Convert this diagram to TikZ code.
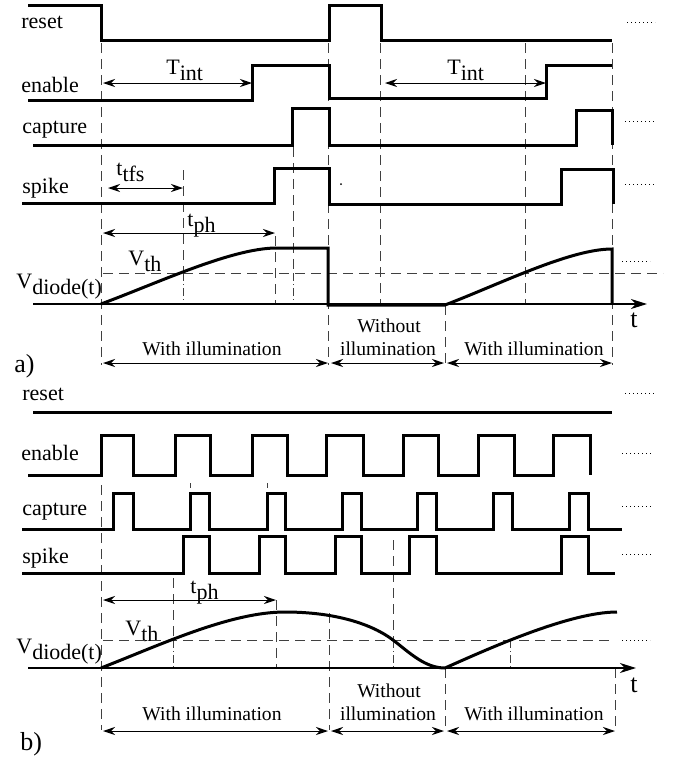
\documentclass[tikz,border=0pt]{standalone}
\usepackage{fontspec}
\setmainfont{Liberation Serif}
\usetikzlibrary{arrows.meta}

\newcommand{\lowtxt}[1]{\raisebox{-3pt}{#1}}

\tikzset{
  sig/.style={line width=1.5pt},
  guide/.style={line width=0.5pt, black!75, dash pattern=on 5pt off 3pt},
  guidedot/.style={line width=0.5pt, black!75, dash pattern=on 4pt off 1.5pt on 0.6pt off 1.5pt},
  etc/.style={line width=0.5pt, dash pattern=on 0.7pt off 1.3pt},
  axisline/.style={line width=0.6pt, -{Stealth[length=8pt,width=5pt,inset=2.5pt]}},
  span/.style={line width=0.5pt, {Stealth[length=6pt,width=4pt,inset=2pt]}-{Stealth[length=6pt,width=4pt,inset=2pt]}},
  siglabel/.style={anchor=base west, inner sep=0pt, font=\fontsize{11}{13}\selectfont},
  illum/.style={anchor=base, inner sep=0pt, font=\fontsize{9.8}{11}\selectfont},
  partlabel/.style={anchor=base west, inner sep=0pt, font=\fontsize{13}{15}\selectfont}
}

\begin{document}
\begin{tikzpicture}[x=0.5pt, y=-0.5pt]
    \useasboundingbox (0,0) rectangle (683,762);

    % ---------- a) ----------
    \node[siglabel] (resetA) at (21,28) {reset};
    \node[siglabel] (enableA) at (21,92) {enable};
    \node[siglabel] (captureA) at (22,133) {capture};
    \node[siglabel] (spikeA) at (22,193) {spike};
    \node[siglabel] (vdiodeA) at (16,288) {V\lowtxt{diode(t)}};
    \node[siglabel] (vthA) at (128,265) {V\lowtxt{th}};
    \node[partlabel] (partA) at (14,372) {a)};

    % guide lines
    \draw[guide] (101,43) -- (101,365);
    \draw[guide] (183,170) -- (183,273);
    \draw[guidedot] (183,273) -- (183,304);
    \draw[guide] (275,236) -- (275,304);
    \draw[guide] (293,147) -- (293,273);
    \draw[guidedot] (293,273) -- (293,304);
    \draw[guide] (328,43) -- (328,365);
    \draw[guide] (380,43) -- (380,304);
    \draw[guide] (525,43) -- (525,304);
    \draw[guide] (612,43) -- (612,365);
    \draw[guide] (445,305) -- (445,365);
    \draw[guide] (103,273) -- (663,273);

    % signals
    \draw[sig] (28,5) -- (101,5) -- (101,40) -- (329,40) -- (329,5) -- (381,5) -- (381,40) -- (612,40);
    \draw[sig] (28,100) -- (252,100) -- (252,65) -- (329,65) -- (329,98) -- (546,98) -- (546,65) -- (612,65);
    \draw[sig] (33,145) -- (292,145) -- (292,108) -- (329,108) -- (329,145) -- (576,145) -- (576,110) -- (612,110) -- (612,145);
    \draw[sig] (22,203) -- (274,203) -- (274,168) -- (329,168) -- (329,204) -- (561,204) -- (561,169) -- (613,169) -- (613,204);
    \fill (341,184) circle (0.5pt);

    % diode voltage
    \draw[axisline] (33,304) -- (647,304);
    \node[font=\fontsize{13}{15}\selectfont, inner sep=0pt] (tA) at (634,320) {t};
    \draw[sig] (101,304) .. controls (160,282) and (230,249) .. (275,248) -- (328,248) -- (328,305)
        -- (445,305) .. controls (500,284) and (570,249) .. (612,249) -- (612,304);

    % time spans
    \draw[span] (103,83) -- (252,83);
    \node[siglabel] (tintA) at (166,74) {T\lowtxt{int}};
    \draw[span] (385,83) -- (546,83);
    \node[siglabel] (tintB) at (447,74) {T\lowtxt{int}};
    \draw[span] (108,188) -- (183,188);
    \node[siglabel] (ttfs) at (116,175) {t\lowtxt{tfs}};
    \draw[span] (103,233) -- (275,233);
    \node[siglabel] (tphA) at (187,226) {t\lowtxt{ph}};

    \draw[span] (103,363) -- (328,363);
    \draw[span] (331,363) -- (444,363);
    \draw[span] (447,363) -- (612,363);
    \node[illum] (withA) at (212,355) {With illumination};
    \node[illum] (withoutA) at (389,332) {Without};
    \node[illum] (withoutA2) at (388,355) {illumination};
    \node[illum] (withA2) at (534,355) {With illumination};

    % dotted continuations
    \draw[etc] (627,22) -- (655,22);
    \draw[etc] (625,121) -- (654,121);
    \draw[etc] (625,184) -- (654,184);
    \draw[etc] (622,261) -- (650,261);

    % ---------- b) ----------
    \node[siglabel] (resetB) at (22,400) {reset};
    \node[siglabel] (enableB) at (21,460) {enable};
    \node[siglabel] (captureB) at (22,515) {capture};
    \node[siglabel] (spikeB) at (22,563) {spike};
    \node[siglabel] (vdiodeB) at (16,653) {V\lowtxt{diode(t)}};
    \node[siglabel] (vthB) at (125,635) {V\lowtxt{th}};
    \node[partlabel] (partB) at (20,750) {b)};

    % guide lines
    \draw[guide] (101,485) -- (101,730);
    \draw[guide] (173,578) -- (173,640);
    \draw[guidedot] (173,640) -- (173,668);
    \draw[guide] (276,600) -- (276,668);
    \draw[guide] (329,613) -- (329,730);
    \draw[guide] (393,540) -- (393,640);
    \draw[guidedot] (393,640) -- (393,668);
    \draw[guide] (445,668) -- (445,730);
    \draw[guidedot] (510,640) -- (510,668);
    \draw[guide] (615,668) -- (615,730);
    \draw[guide] (190,483) -- (190,488);
    \draw[guide] (267,483) -- (267,488);
    \draw[guide] (103,640) -- (610,640);

    % signals
    \draw[sig] (33,412) -- (612,412);
    \draw[sig] (28,475) -- (101,475) -- (101,435) -- (133,435) -- (133,475) -- (175,475) -- (175,435)
        -- (210,435) -- (210,475) -- (252,475) -- (252,435) -- (287,435) -- (287,475) -- (326,475)
        -- (326,435) -- (363,435) -- (363,475) -- (403,475) -- (403,435) -- (438,435) -- (438,475)
        -- (478,475) -- (478,435) -- (514,435) -- (514,475) -- (553,475) -- (553,435) -- (590,435) -- (590,475);
    \draw[sig] (22,529) -- (113,529) -- (113,493) -- (133,493) -- (133,529) -- (190,529) -- (190,493)
        -- (209,493) -- (209,529) -- (267,529) -- (267,493) -- (285,493) -- (285,529) -- (342,529)
        -- (342,493) -- (361,493) -- (361,529) -- (417,529) -- (417,493) -- (436,493) -- (436,529)
        -- (493,529) -- (493,493) -- (512,493) -- (512,529) -- (569,529) -- (569,493) -- (588,493)
        -- (588,529) -- (622,529);
    \draw[sig] (22,573) -- (183,573) -- (183,536) -- (209,536) -- (209,573) -- (259,573) -- (259,536)
        -- (285,536) -- (285,573) -- (335,573) -- (335,536) -- (361,536) -- (361,573) -- (409,573)
        -- (409,536) -- (436,536) -- (436,573) -- (561,573) -- (561,536) -- (588,536) -- (588,573) -- (615,573);

    % diode voltage
    \draw[axisline] (28,668) -- (636,668);
    \node[font=\fontsize{13}{15}\selectfont, inner sep=0pt] (tB) at (634,685) {t};
    \draw[sig] (101,668) .. controls (160,645) and (230,612) .. (285,612)
        .. controls (335,612) and (372,624) .. (393,640)
        .. controls (410,653) and (425,668) .. (445,668)
        .. controls (490,648) and (570,612) .. (617,612);

    % time spans
    \draw[span] (103,600) -- (276,600);
    \node[siglabel] (tphB) at (190,593) {t\lowtxt{ph}};

    \draw[span] (103,731) -- (328,731);
    \draw[span] (331,731) -- (444,731);
    \draw[span] (447,731) -- (615,731);
    \node[illum] (withB) at (212,720) {With illumination};
    \node[illum] (withoutB) at (389,697) {Without};
    \node[illum] (withoutB2) at (388,720) {illumination};
    \node[illum] (withB2) at (534,720) {With illumination};

    % dotted continuations
    \draw[etc] (625,393) -- (654,393);
    \draw[etc] (622,453) -- (651,453);
    \draw[etc] (622,506) -- (651,506);
    \draw[etc] (622,554) -- (651,554);
    \draw[etc] (622,640) -- (650,640);
\end{tikzpicture}
\end{document}
